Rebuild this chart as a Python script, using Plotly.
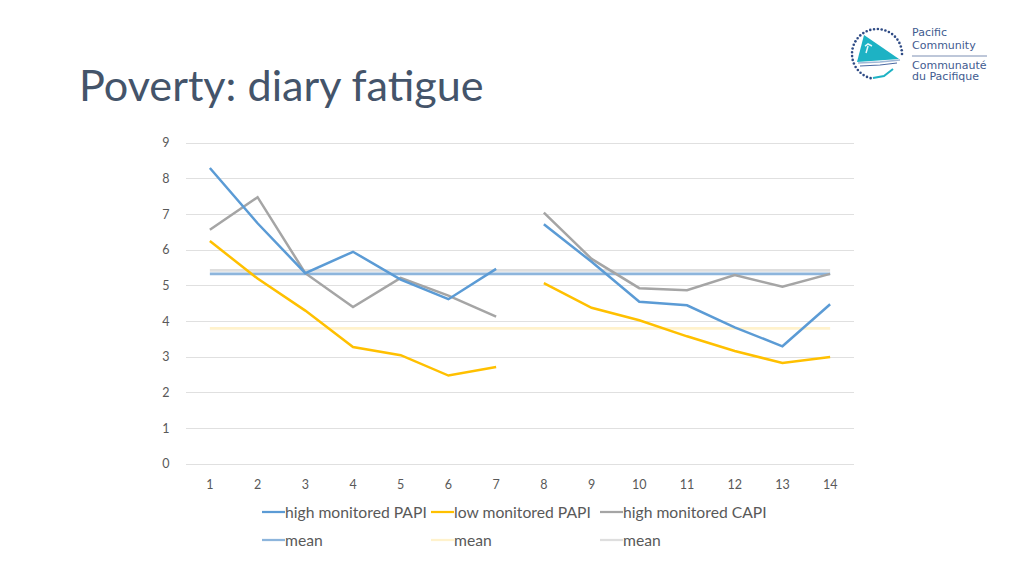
import math
import plotly.graph_objects as go

days = list(range(1, 15))
high_papi = [8.3, 6.75, 5.35, 5.95, 5.17, 4.62, 5.47, None, 6.72, 5.67, 4.55, 4.45, 3.83, 3.3, 4.48]
low_papi = [6.25, 5.2, 4.3, 3.28, 3.05, 2.48, 2.72, None, 5.07, 4.38, 4.03, 3.58, 3.17, 2.83, 3.0]
high_capi = [6.57, 7.48, 5.35, 4.4, 5.22, 4.72, 4.13, None, 7.05, 5.75, 4.93, 4.87, 5.3, 4.97, 5.33]
gap_x = [1, 2, 3, 4, 5, 6, 7, 7.5, 8, 9, 10, 11, 12, 13, 14]
mean_days = [1, 14]
mean_high_papi = [5.33, 5.33]
mean_low_papi = [3.8, 3.8]
mean_high_capi = [5.43, 5.43]

BLUE, YELLOW, GRAY = "#5B9BD5", "#FFC000", "#A5A5A5"
M_BLUE, M_YELLOW, M_GRAY = "#8DB5DC", "#FFF2CC", "#DEDEDE"
TXT = "#595959"
FONT = "Lato"
L, R, T, B = 186, 854, 141, 466
UNIT_PX = 321 / 9
PAD = 2 / UNIT_PX


def px(x):
    return (x - L) / (R - L)


def py(y):
    return (B - y) / (B - T)


fig = go.Figure()
for name, ys, col in [("mean", mean_low_papi, M_YELLOW), ("mean", mean_high_capi, M_GRAY),
                      ("mean", mean_high_papi, M_BLUE)]:
    fig.add_trace(go.Scatter(x=mean_days, y=ys, mode="lines", name=name,
                             line=dict(color=col, width=2.75), showlegend=False))
for name, ys, col in [("high monitored CAPI", high_capi, GRAY), ("low monitored PAPI", low_papi, YELLOW),
                      ("high monitored PAPI", high_papi, BLUE)]:
    fig.add_trace(go.Scatter(x=gap_x, y=ys, mode="lines", name=name,
                             line=dict(color=col, width=2.5), showlegend=False, connectgaps=False))

shapes, annos = [], []

# legend
legend_rows = [
    (512, [("high monitored PAPI", BLUE, 262), ("low monitored PAPI", YELLOW, 431), ("high monitored CAPI", GRAY, 600)]),
    (540, [("mean", M_BLUE, 262), ("mean", M_YELLOW, 431), ("mean", M_GRAY, 600)]),
]
for y, entries in legend_rows:
    for label, col, x in entries:
        shapes.append(dict(type="line", xref="paper", yref="paper", x0=px(x), x1=px(x + 23),
                           y0=py(y), y1=py(y), line=dict(color=col, width=2.25)))
        annos.append(dict(text=label, xref="paper", yref="paper", x=px(x + 23), y=py(y), xanchor="left",
                          yanchor="middle", showarrow=False, xshift=-2,
                          font=dict(family=FONT, size=15.7, color=TXT)))

# title
annos.append(dict(text="Poverty: diary fatigue", xref="paper", yref="paper", x=px(79), y=py(84),
                  xanchor="left", yanchor="middle", showarrow=False, xshift=-2,
                  font=dict(family=FONT, size=43.2, color="#44546A")))

# logo
NAVY, TEAL = "#2F4B85", "#1DB2C4"
cx, cy, r = 877, 54, 25
for i in range(30):
    a = math.radians(-i * 8.8)
    dx, dy = cx + r * math.cos(a), cy + r * math.sin(a)
    shapes.append(dict(type="circle", xref="paper", yref="paper", x0=px(dx - 1.3), x1=px(dx + 1.3),
                       y0=py(dy - 1.3), y1=py(dy + 1.3), fillcolor=NAVY, line=dict(width=0)))


def poly(points, fill=None, line=None, width=1.5):
    path = "M " + " L ".join(f"{px(a):.4f},{py(b):.4f}" for a, b in points) + (" Z" if fill else "")
    shapes.append(dict(type="path", xref="paper", yref="paper", path=path,
                       fillcolor=fill if fill else "rgba(0,0,0,0)",
                       line=dict(color=line if line else "rgba(0,0,0,0)", width=width if line else 0)))


poly([(864, 35), (899, 59), (857, 62)], fill=TEAL)
poly([(858, 63), (880, 62), (900, 60)], line="#9FB7D6", width=1.5)
poly([(860, 66), (880, 65), (897, 63)], line="#4C6BA3", width=1.2)
poly([(873, 78), (884, 76), (893, 69)], line=TEAL, width=2)
poly([(866, 53), (868, 46)], line="#E8F7F9", width=1.5)
poly([(865, 46), (868, 44), (872, 46)], line="#E8F7F9", width=1.5)
for text, y in [("Pacific", 33), ("Community", 46), ("Communauté", 65), ("du Pacifique", 77)]:
    annos.append(dict(text=text, xref="paper", yref="paper", x=px(912), y=py(y), xanchor="left",
                      yanchor="middle", showarrow=False, xshift=-2,
                      font=dict(family="DejaVu Sans", size=11, color="#3F5B90")))
poly([(912, 56), (987, 56)], line="#7C8FB3", width=1)

fig.update_layout(
    width=1024, height=576, paper_bgcolor="white", plot_bgcolor="white",
    margin=dict(l=L, r=1024 - R, t=T, b=576 - B, pad=0), showlegend=False,
    font=dict(family=FONT, size=12.5, color=TXT),
    shapes=shapes, annotations=annos,
    xaxis=dict(range=[0.5, 14.5], tickvals=days, ticktext=[str(d) for d in days], showgrid=False,
               zeroline=False, showline=False, ticks="outside", ticklen=7, tickwidth=0, tickcolor="white",
               tickfont=dict(family=FONT, size=12.5, color=TXT)),
    yaxis=dict(range=[-PAD, 9 + PAD], tickvals=list(range(10)), showgrid=True, gridcolor="#E0E0E0", gridwidth=1,
               zeroline=False, showline=False, ticks="outside", ticklen=13, tickwidth=0, tickcolor="white",
               tickfont=dict(family=FONT, size=12.5, color=TXT)),
)
fig.write_html("out.html", config=dict(displayModeBar=False),
               post_script="document.body.style.margin='0';document.documentElement.style.overflow='hidden';")
